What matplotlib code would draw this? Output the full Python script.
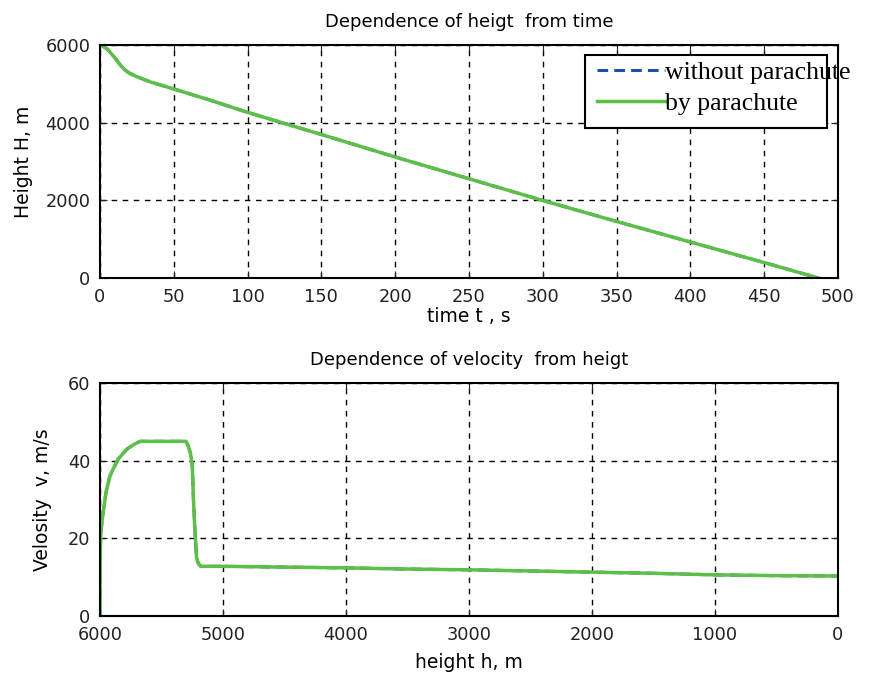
import matplotlib.pyplot as plt
from matplotlib.patches import Rectangle
import numpy as np

# top plot: height vs time
t_time = [1, 5, 10, 14, 17, 20, 25, 34, 49, 75, 99, 150, 200, 250, 300, 350, 400, 450, 487]
h_height = [6000, 5900, 5680, 5480, 5360, 5280, 5190, 5055, 4885, 4580, 4282,
            3700, 3120, 2560, 2000, 1460, 930, 400, 0]

# bottom plot: velocity vs height
h_pos = [6000, 5999, 5995, 5985, 5973, 5950, 5920, 5891, 5850, 5781, 5720, 5672,
         5500, 5300, 5285, 5265, 5250, 5240, 5228, 5215, 5200, 5180, 5000, 4500,
         4000, 3500, 3000, 2500, 2000, 1500, 1000, 500, 0]
v_vel = [0, 10, 20, 24, 27, 32, 36, 38, 40.5, 43, 44.3, 45,
         45, 45, 44, 42, 39, 30, 22, 15, 13.5, 12.8, 12.8, 12.6,
         12.4, 12.1, 11.9, 11.6, 11.3, 11.0, 10.6, 10.4, 10.3]

green = '#5cbf47'
blue = '#1f4fa8'

plt.rcParams['font.family'] = 'DejaVu Sans'

fig = plt.figure(figsize=(8.77, 6.75), dpi=100)
ax1 = fig.add_axes([0.114, 0.588, 0.8415, 0.345])
ax2 = fig.add_axes([0.114, 0.0874, 0.8415, 0.345])


def matlab_style(ax):
    ax.grid(True, color='black', linestyle=(0, (4, 4)), linewidth=1)
    ax.tick_params(direction='in', length=5, labelsize=12.8, colors='#222222',
                   top=True, right=True, pad=7)
    for s in ax.spines.values():
        s.set_linewidth(1.5)
        s.set_color('black')


ax1.plot(t_time, h_height, color=blue, linewidth=2.2, linestyle=(0, (3.5, 2)),
         label='without parachute')
ax1.plot(t_time, h_height, '-', color=green, linewidth=2.5, label='by parachute')
ax1.set_xlim(0, 500)
ax1.set_ylim(0, 6000)
ax1.set_xticks(np.arange(0, 501, 50))
ax1.set_yticks([0, 2000, 4000, 6000])
matlab_style(ax1)
ax1.set_title('Dependence of heigt  from time', fontsize=13, pad=13)
ax1.set_xlabel('time t , s', fontsize=13.5, labelpad=1)
ax1.set_ylabel('Height H, m', fontsize=13.5, labelpad=9)

# legend box drawn separately: the text runs past its right edge
box = Rectangle((585 / 877, 1 - 128 / 675), 242 / 877, 73 / 675,
                transform=fig.transFigure, facecolor='white', edgecolor='black',
                linewidth=1.5, zorder=4)
ax1.add_patch(box)
leg = ax1.legend(loc='upper left', bbox_to_anchor=(597 / 877, 1 - 61 / 675),
                 bbox_transform=fig.transFigure,
                 prop={'family': 'Liberation Serif', 'size': 18.5},
                 frameon=False, handlelength=2.65, handletextpad=0.0,
                 borderpad=0, labelspacing=0.33, borderaxespad=0)
leg.set_zorder(6)

ax2.plot(h_pos, v_vel, color=blue, linewidth=2.2, linestyle=(0, (3.5, 2)))
ax2.plot(h_pos, v_vel, '-', color=green, linewidth=2.5)
ax2.set_xlim(6000, 0)
ax2.set_ylim(0, 60)
ax2.set_xticks(np.arange(0, 6001, 1000))
ax2.set_yticks([0, 20, 40, 60])
matlab_style(ax2)
ax2.set_title('Dependence of velocity  from heigt', fontsize=13, pad=13)
ax2.set_xlabel('height h, m', fontsize=13.5, labelpad=7)
ax2.set_ylabel('Velosity  v, m/s', fontsize=13.5, labelpad=11)

fig.savefig('out.png', dpi=100)
